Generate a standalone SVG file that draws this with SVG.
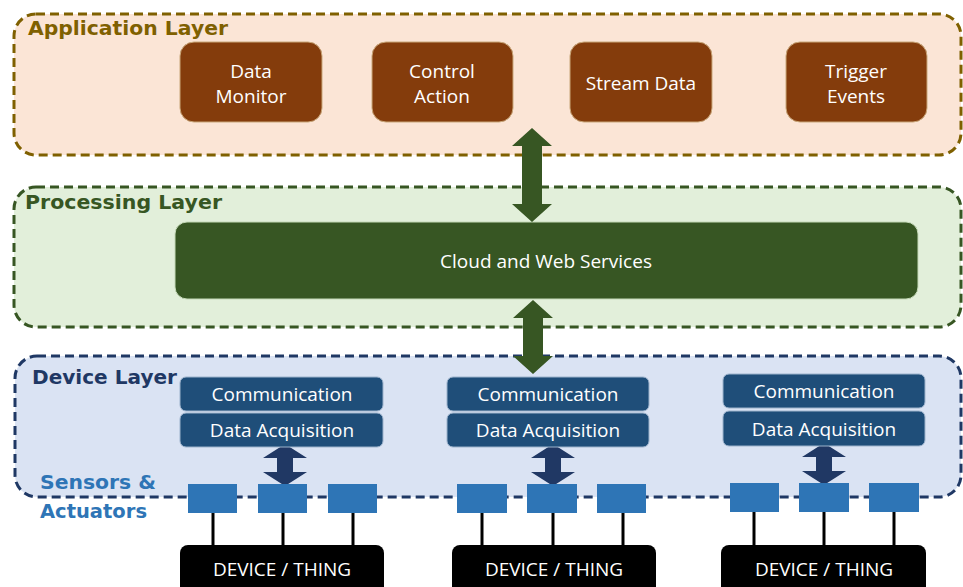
<svg xmlns="http://www.w3.org/2000/svg" width="963" height="587" viewBox="0 0 963 587">
<defs>
<style>
.layer{stroke-width:3;stroke-dasharray:9 5}
.title{font-family:"DejaVu Sans","Liberation Sans",sans-serif;font-weight:bold;font-size:20px}
.lbl{font-family:"Open Sans","Noto Sans",sans-serif;font-size:19px;fill:#ffffff;text-anchor:middle}
.app{fill:#843C0C;stroke:#C9A77A;stroke-width:1}
.dev{fill:#1F4E79;stroke:#9DB3CC;stroke-width:1}
.sensor{fill:#2E75B6}
.thing{fill:#000000}
.wire{stroke:#000000;stroke-width:3}
.navy{fill:#203864}
.green{fill:#375623}
</style>
</defs>
<rect width="963" height="587" fill="#ffffff"/>

<g id="application-layer">
<rect class="layer" x="14" y="14" width="947" height="141" rx="22" fill="#FBE5D6" stroke="#7F6000"/>
<text class="title" x="28" y="35" fill="#7F6000" textLength="200" lengthAdjust="spacingAndGlyphs">Application Layer</text>
</g>
<g id="data-monitor"><rect class="app" x="180" y="42" width="142" height="80" rx="14"/><text class="lbl" x="251" y="78">Data</text><text class="lbl" x="251" y="103">Monitor</text></g>
<g id="control-action"><rect class="app" x="372" y="42" width="141" height="80" rx="14"/><text class="lbl" x="442" y="78">Control</text><text class="lbl" x="442" y="103">Action</text></g>
<g id="stream-data"><rect class="app" x="570" y="42" width="142" height="80" rx="14"/><text class="lbl" x="641" y="90">Stream Data</text></g>
<g id="trigger-events"><rect class="app" x="786" y="42" width="141" height="80" rx="14"/><text class="lbl" x="856" y="78">Trigger</text><text class="lbl" x="856" y="103">Events</text></g>

<g id="processing-layer">
<rect class="layer" x="14" y="187" width="947" height="140" rx="22" fill="#E2EFDA" stroke="#375623"/>
<text class="title" x="25" y="209" fill="#375623" textLength="197" lengthAdjust="spacingAndGlyphs">Processing Layer</text>
</g>
<g id="cloud-web-services"><rect x="175" y="222" width="743" height="77" rx="12" fill="#375623" stroke="#C5D9B8" stroke-width="1"/><text class="lbl" x="546" y="268">Cloud and Web Services</text></g>

<g id="device-layer">
<rect class="layer" x="15" y="356" width="946" height="141" rx="22" fill="#DAE3F3" stroke="#1F3864"/>
<text class="title" x="32" y="384" fill="#1F3864" textLength="145" lengthAdjust="spacingAndGlyphs">Device Layer</text>
<text class="title" x="40" y="489" fill="#2E75B6" textLength="116" lengthAdjust="spacingAndGlyphs">Sensors &amp;</text>
<text class="title" x="40" y="518" fill="#2E75B6" textLength="107" lengthAdjust="spacingAndGlyphs">Actuators</text>
</g>

<g id="connectors">
<polygon class="green" points="532,128 552,146 542,146 542,204 552,204 532,222 512,204 522,204 522,146 512,146"/>
<polygon class="green" points="533,300 553,318 543,318 543,356 553,356 533,374 513,356 523,356 523,318 513,318"/>
<polygon class="navy" points="285,444 307,458 293,458 293,472 307,472 285,486 263,472 277,472 277,458 263,458"/>
<polygon class="navy" points="553,444 575,458 561,458 561,472 575,472 553,486 531,472 545,472 545,458 531,458"/>
<polygon class="navy" points="824,443 846,457 832,457 832,471 846,471 824,485 802,471 816,471 816,457 802,457"/>
<line class="wire" x1="213" y1="513" x2="213" y2="546"/>
<line class="wire" x1="283" y1="513" x2="283" y2="546"/>
<line class="wire" x1="353" y1="513" x2="353" y2="546"/>
<line class="wire" x1="482" y1="513" x2="482" y2="546"/>
<line class="wire" x1="553" y1="513" x2="553" y2="546"/>
<line class="wire" x1="623" y1="513" x2="623" y2="546"/>
<line class="wire" x1="754" y1="512" x2="754" y2="546"/>
<line class="wire" x1="824" y1="512" x2="824" y2="546"/>
<line class="wire" x1="894" y1="512" x2="894" y2="546"/>
</g>

<g id="device-1">
<rect class="dev" x="180" y="377" width="203" height="34" rx="6"/><text class="lbl" x="282" y="401">Communication</text>
<rect class="dev" x="180" y="413" width="203" height="34" rx="6"/><text class="lbl" x="282" y="437">Data Acquisition</text>
<rect class="sensor" x="188" y="484" width="49" height="29"/>
<rect class="sensor" x="258" y="484" width="49" height="29"/>
<rect class="sensor" x="328" y="484" width="49" height="29"/>
<rect class="thing" x="180" y="545" width="204" height="50" rx="8"/><text class="lbl" x="282" y="576">DEVICE / THING</text>
</g>
<g id="device-2">
<rect class="dev" x="447" y="377" width="202" height="34" rx="6"/><text class="lbl" x="548" y="401">Communication</text>
<rect class="dev" x="447" y="413" width="202" height="34" rx="6"/><text class="lbl" x="548" y="437">Data Acquisition</text>
<rect class="sensor" x="457" y="484" width="50" height="29"/>
<rect class="sensor" x="527" y="484" width="50" height="29"/>
<rect class="sensor" x="597" y="484" width="49" height="29"/>
<rect class="thing" x="452" y="545" width="204" height="50" rx="8"/><text class="lbl" x="554" y="576">DEVICE / THING</text>
</g>
<g id="device-3">
<rect class="dev" x="723" y="374" width="202" height="34" rx="6"/><text class="lbl" x="824" y="398">Communication</text>
<rect class="dev" x="723" y="411" width="202" height="35" rx="6"/><text class="lbl" x="824" y="436">Data Acquisition</text>
<rect class="sensor" x="730" y="483" width="49" height="29"/>
<rect class="sensor" x="799" y="483" width="50" height="29"/>
<rect class="sensor" x="869" y="483" width="50" height="29"/>
<rect class="thing" x="721" y="545" width="205" height="50" rx="8"/><text class="lbl" x="824" y="576">DEVICE / THING</text>
</g>
</svg>
